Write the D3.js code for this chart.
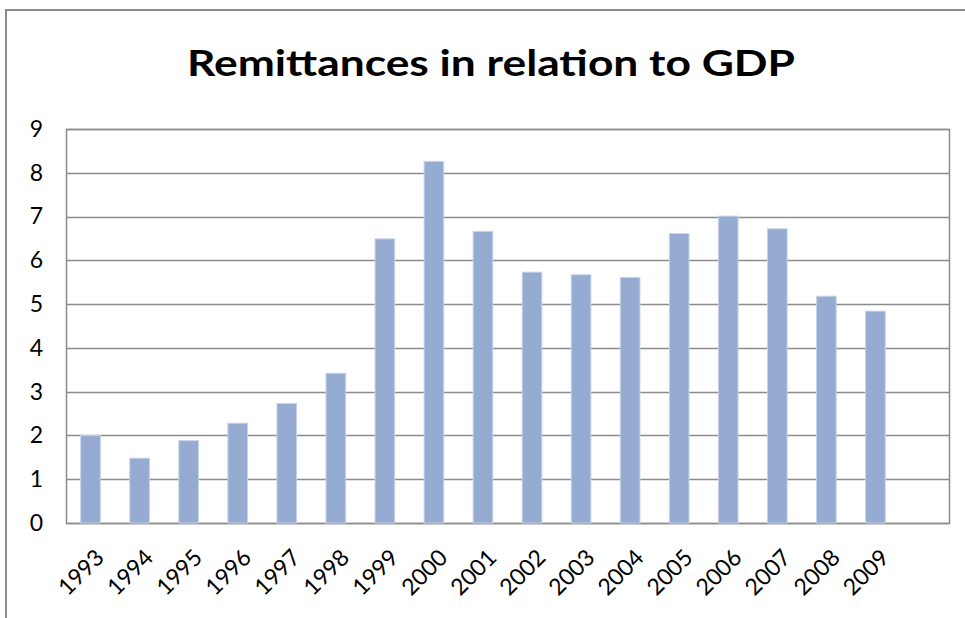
<!DOCTYPE html>
<html>
<head>
<meta charset="utf-8">
<script src="https://cdn.jsdelivr.net/npm/d3@7"></script>
<style>
    body { margin: 0; background: #fff; }
    text { font-family: Lato, "Open Sans", sans-serif; }
</style>
</head>
<body>
<div id="chart"></div>
<script>
// data
let years = ["1993", "1994", "1995", "1996", "1997", "1998", "1999", "2000", "2001",
    "2002", "2003", "2004", "2005", "2006", "2007", "2008", "2009"];
let remittances = [2.0, 1.48, 1.88, 2.28, 2.73, 3.42, 6.49, 8.26, 6.66,
    5.73, 5.67, 5.61, 6.61, 7.01, 6.72, 5.18, 4.84];
let yTicks = [0, 1, 2, 3, 4, 5, 6, 7, 8, 9];
let title = "Remittances in relation to GDP";

let width = 965, height = 618;
let plot = { left: 66, right: 949, top: 129, bottom: 523 };

let svg = d3.select("#chart").append("svg")
    .attr("width", width)
    .attr("height", height);

// outer chart frame (only top and left edges are visible)
svg.append("path")
    .attr("d", `M6,${height} V10 H${width}`)
    .attr("fill", "none")
    .attr("stroke", "#8c8c8c")
    .attr("stroke-width", 2);

// title
svg.append("text")
    .attr("x", (187 + 795) / 2)
    .attr("y", 76)
    .attr("text-anchor", "middle")
    .attr("font-size", 37)
    .attr("font-weight", "bold")
    .attr("textLength", 608)
    .attr("lengthAdjust", "spacingAndGlyphs")
    .attr("fill", "#000")
    .text(title);

// scales - one extra empty slot after 2009, like the original
let x = d3.scaleBand()
    .domain(years.concat([""]))
    .range([plot.left, plot.right])
    .paddingInner(0.6)
    .paddingOuter(0.3);

let y = d3.scaleLinear()
    .domain([0, 9])
    .range([plot.bottom, plot.top]);

// gridlines
svg.append("g")
    .selectAll("line")
    .data(yTicks)
    .enter().append("line")
    .attr("x1", plot.left)
    .attr("x2", plot.right)
    .attr("y1", d => Math.round(y(d)) + 0.5)
    .attr("y2", d => Math.round(y(d)) + 0.5)
    .attr("stroke", "#8c8c8c")
    .attr("stroke-width", 1.5);

// plot area border
svg.append("rect")
    .attr("x", plot.left + 0.5)
    .attr("y", Math.round(y(9)) + 0.5)
    .attr("width", plot.right - plot.left)
    .attr("height", Math.round(y(0)) - Math.round(y(9)))
    .attr("fill", "none")
    .attr("stroke", "#8c8c8c")
    .attr("stroke-width", 1.5);

// bars
svg.append("g")
    .selectAll("rect")
    .data(remittances)
    .enter().append("rect")
    .attr("x", (d, i) => x(years[i]))
    .attr("y", d => y(d))
    .attr("width", x.bandwidth())
    .attr("height", d => y(0) - y(d))
    .attr("fill", "#95abd2")
    .attr("stroke", "#c6d2e8")
    .attr("stroke-width", 1);

// y axis labels
let yAxis = svg.append("g")
    .attr("transform", `translate(${plot.left},0)`)
    .call(d3.axisLeft(y).tickValues(yTicks).tickSize(0).tickPadding(23));
yAxis.select(".domain").remove();
yAxis.selectAll("text")
    .attr("font-size", 23)
    .attr("font-family", "Lato, sans-serif")
    .attr("fill", "#000");

// x axis labels, rotated
let xAxis = svg.append("g")
    .attr("transform", `translate(0,${plot.bottom})`)
    .call(d3.axisBottom(x).tickValues(years).tickSize(0));
xAxis.select(".domain").remove();
xAxis.selectAll("text")
    .attr("font-size", 23)
    .attr("font-family", "Lato, sans-serif")
    .attr("fill", "#000")
    .attr("text-anchor", "end")
    .attr("dy", 0)
    .attr("y", 0)
    .attr("transform", "translate(15,36) rotate(-45)");
</script>
</body>
</html>
